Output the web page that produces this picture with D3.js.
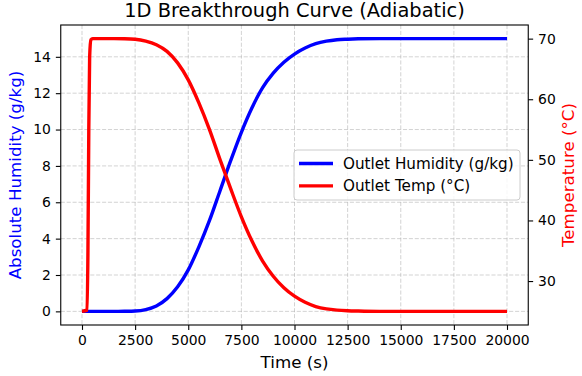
<!DOCTYPE html>
<html>
<head>
<meta charset="utf-8">
<script src="https://cdn.jsdelivr.net/npm/d3@7"></script>
<style>
  body { margin: 0; background: #fff; }
  svg { display: block; font-family: "DejaVu Sans", sans-serif; }
</style>
</head>
<body>
<div id="chart"></div>
<script>
// outlet readings over time
const timeS = [0, 240, 280, 320, 360, 420, 500, 1000, 1500, 2000,
    2500, 3000, 3500, 4000, 4500, 5000, 5500, 6000, 6500, 7000, 7500, 8000,
    8500, 9000, 9500, 10000, 10500, 11000, 11500, 12000, 12500, 13000,
    14000, 15000, 16000, 17000, 18000, 19000, 20000];
const humidity = [0, 0, 0, 0, 0, 0, 0, 0, 0, 0.005,
    0.02, 0.1, 0.3, 0.7, 1.35, 2.28, 3.55, 5.0, 6.65, 8.3, 9.85, 11.2,
    12.3, 13.1, 13.7, 14.15, 14.48, 14.72, 14.86, 14.94, 14.97, 14.99,
    15, 15, 15, 15, 15, 15, 15];
const temperature = [25, 25.2, 35, 55, 67, 69.8, 70, 70, 70, 69.98,
    69.9, 69.6, 69.0, 67.9, 66.0, 63.2, 59.4, 55.0, 50.0, 45.2, 40.6, 36.6,
    33.3, 30.8, 28.9, 27.5, 26.5, 25.8, 25.4, 25.2, 25.1, 25.05,
    25, 25, 25, 25, 25, 25, 25];

const xTicks = [0, 2500, 5000, 7500, 10000, 12500, 15000, 17500, 20000];
const humTicks = [0, 2, 4, 6, 8, 10, 12, 14];
const tempTicks = [30, 40, 50, 60, 70];
const seriesNames = ["Outlet Humidity (g/kg)", "Outlet Temp (°C)"];

const W = 582, H = 376;
const margin = {top: 25, right: 53.75, bottom: 51, left: 60.75};
const width = W - margin.left - margin.right;
const height = H - margin.top - margin.bottom;

const svg = d3.select("#chart").append("svg")
    .attr("width", W)
    .attr("height", H);

const g = svg.append("g")
    .attr("transform", `translate(${margin.left},${margin.top})`);

// matplotlib-like 5% padding
const x = d3.scaleLinear().domain([-1000, 21000]).range([0, width]);
const yH = d3.scaleLinear().domain([-0.75, 15.75]).range([height, 0]);
const yT = d3.scaleLinear().domain([22.75, 72.25]).range([height, 0]);

// grid
const grid = g.append("g").attr("class", "grid")
    .attr("stroke", "#b0b0b0")
    .attr("stroke-opacity", 0.7)
    .attr("stroke-width", 0.8)
    .attr("stroke-dasharray", "4.1,1.8");
grid.selectAll(".gx").data(xTicks).join("line")
    .attr("x1", d => x(d)).attr("x2", d => x(d))
    .attr("y1", 0).attr("y2", height);
grid.selectAll(".gy").data(humTicks).join("line")
    .attr("x1", 0).attr("x2", width)
    .attr("y1", d => yH(d)).attr("y2", d => yH(d));

// lines
const pts = timeS.map((t, i) => ({t: t, h: humidity[i], T: temperature[i]}));

g.append("path")
    .datum(pts)
    .attr("fill", "none")
    .attr("stroke", "blue")
    .attr("stroke-width", 3.4)
    .attr("d", d3.line().x(d => x(d.t)).y(d => yH(d.h)).curve(d3.curveMonotoneX));

g.append("path")
    .datum(pts)
    .attr("fill", "none")
    .attr("stroke", "red")
    .attr("stroke-width", 3.4)
    .attr("d", d3.line().x(d => x(d.t)).y(d => yT(d.T)).curve(d3.curveMonotoneX));

// axes
function styleAxis(sel) {
    sel.selectAll("text").attr("font-size", 13.9).attr("fill", "#000")
        .attr("font-family", "DejaVu Sans");
    sel.selectAll(".tick line").attr("stroke", "#000").attr("stroke-width", 1.1);
    sel.select(".domain").remove();
}

g.append("g")
    .attr("transform", `translate(0,${height})`)
    .call(d3.axisBottom(x).tickValues(xTicks).tickFormat(d3.format("d"))
        .tickSize(4.9).tickPadding(5.5))
    .call(styleAxis);

g.append("g")
    .call(d3.axisLeft(yH).tickValues(humTicks).tickFormat(d3.format("d"))
        .tickSize(4.9).tickPadding(4.9))
    .call(styleAxis);

g.append("g")
    .attr("transform", `translate(${width},0)`)
    .call(d3.axisRight(yT).tickValues(tempTicks).tickFormat(d3.format("d"))
        .tickSize(4.9).tickPadding(4.9))
    .call(styleAxis);

// frame
g.append("rect")
    .attr("width", width).attr("height", height)
    .attr("fill", "none").attr("stroke", "#000").attr("stroke-width", 1.1);

// title + labels
svg.append("text")
    .attr("x", margin.left + width / 2).attr("y", 17)
    .attr("text-anchor", "middle").attr("font-size", 19.4)
    .text("1D Breakthrough Curve (Adiabatic)");

svg.append("text")
    .attr("x", margin.left + width / 2).attr("y", 368)
    .attr("text-anchor", "middle").attr("font-size", 16.7)
    .text("Time (s)");

svg.append("text")
    .attr("transform", `translate(20.5,${margin.top + height / 2}) rotate(-90)`)
    .attr("text-anchor", "middle").attr("font-size", 16.7).attr("fill", "blue")
    .text("Absolute Humidity (g/kg)");

svg.append("text")
    .attr("transform", `translate(574,${margin.top + height / 2}) rotate(-90)`)
    .attr("text-anchor", "middle").attr("font-size", 16.7).attr("fill", "red")
    .text("Temperature (°C)");

// legend
const leg = svg.append("g").attr("transform", "translate(294,150)");
leg.append("rect")
    .attr("width", 226).attr("height", 50).attr("rx", 3)
    .attr("fill", "#fff").attr("fill-opacity", 0.8)
    .attr("stroke", "#cccccc").attr("stroke-width", 1);
const colors = ["blue", "red"];
seriesNames.forEach((name, i) => {
    const cy = 13.5 + i * 22.4;
    leg.append("line")
        .attr("x1", 5).attr("x2", 39).attr("y1", cy).attr("y2", cy)
        .attr("stroke", colors[i]).attr("stroke-width", 3.4);
    leg.append("text")
        .attr("x", 49).attr("y", cy + 5.3)
        .attr("font-size", 15.2)
        .text(name);
});
</script>
</body>
</html>
